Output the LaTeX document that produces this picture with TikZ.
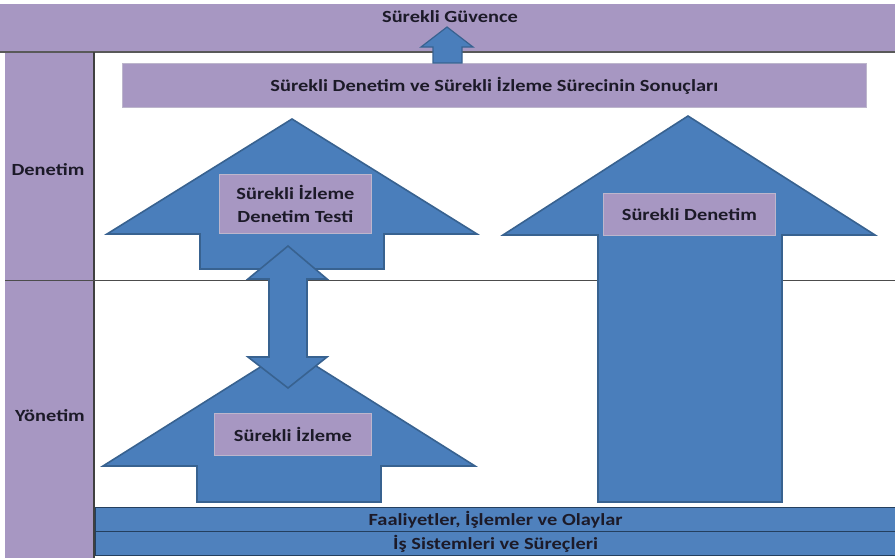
\documentclass[tikz,border=0pt]{standalone}
\usepackage{fontspec}
\setmainfont[FakeStretch=1.2]{Carlito}
\definecolor{lav}{HTML}{A797C2}
\definecolor{lavedge}{HTML}{BDB6CC}
\definecolor{arrowblue}{HTML}{4A7EBB}
\definecolor{arrowedge}{HTML}{386290}
\definecolor{bandblue}{HTML}{4F81BD}
\definecolor{bandedge}{HTML}{243F5E}
\definecolor{inktext}{HTML}{1C1A28}
\tikzset{
  lbl/.style={font=\bfseries\fontsize{17}{22.5}\selectfont, text=inktext, align=center, inner sep=0pt},
  bigarrow/.style={fill=arrowblue, draw=arrowedge, line width=1.6pt, line join=miter},
  labelbox/.style={lbl, fill=lav, draw=lavedge, line width=0.8pt, anchor=north west},
  bandbox/.style={lbl, fill=bandblue, draw=bandedge, line width=1.2pt, anchor=north west,
    minimum width=800pt, minimum height=24pt},
}
\begin{document}
\begin{tikzpicture}[x=1pt,y=-1pt]
\useasboundingbox[fill=white] (0,0) rectangle (895,558);

% title band and side column
\fill[lav] (0,4) rectangle (895,52);
\fill[lav] (5,52) rectangle (94,558);
\draw[black!65, line width=1.6pt] (0,52) -- (895,52);
\draw[black!75, line width=1.2pt] (94,52) -- (94,558);
% divider between Denetim and Yönetim
\draw[black!70, line width=0.8pt] (5,280) -- (895,280);

\node[lbl] (guvence) at (450,17) {Sürekli Güvence};
\node[lbl] (denetim) at (48,170) {Denetim};
\node[lbl] (yonetim) at (50,416) {Yönetim};

% results box
\node[labelbox, minimum width=744pt, minimum height=44pt] (sonuc) at (122,63)
  {Sürekli Denetim ve Sürekli İzleme Sürecinin Sonuçları};

% upper left arrow
\draw[bigarrow] (292,119) -- (477,234) -- (384,234) -- (384,269) -- (200,269)
  -- (200,234) -- (107,234) -- cycle;
% right arrow
\draw[bigarrow] (688,116) -- (875,235) -- (782,235) -- (782,502) -- (598,502)
  -- (598,235) -- (503,235) -- cycle;
% lower left arrow
\draw[bigarrow] (289,349) -- (475,466) -- (381,466) -- (381,502) -- (197,502)
  -- (197,466) -- (103,466) -- cycle;
% two-way arrow between the left arrows
\draw[bigarrow] (288,246) -- (327,279) -- (307,279) -- (307,357) -- (327,357)
  -- (288,388) -- (248,357) -- (269,357) -- (269,279) -- (248,279) -- cycle;
% small arrow up to the title band
\draw[bigarrow, line width=1.2pt] (447,27) -- (473,47) -- (462,47) -- (462,63)
  -- (433,63) -- (433,47) -- (421,47) -- cycle;

\node[labelbox, minimum width=152pt, minimum height=59pt] (test) at (219,174)
  {Sürekli İzleme\\Denetim Testi};
\node[labelbox, minimum width=172pt, minimum height=42pt] (surdenetim) at (603,193)
  {Sürekli Denetim};
\node[labelbox, minimum width=157pt, minimum height=42pt] (izleme) at (214,413)
  {Sürekli İzleme};

% bottom bands
\node[bandbox] (faaliyet) at (95,507) {Faaliyetler, İşlemler ve Olaylar};
\node[bandbox] (sistem) at (95,531) {İş Sistemleri ve Süreçleri};
\end{tikzpicture}
\end{document}
